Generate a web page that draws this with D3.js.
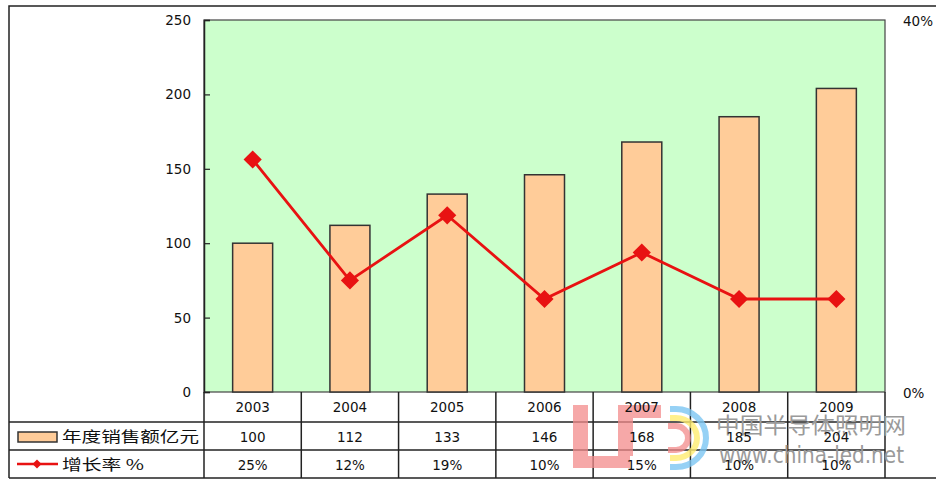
<!DOCTYPE html>
<html>
<head>
<meta charset="utf-8">
<script src="https://cdn.jsdelivr.net/npm/d3@7"></script>
<style>
  html, body { margin: 0; padding: 0; background: #fff; }
  svg { display: block; }
  text { font-family: "DejaVu Sans", "Liberation Sans", sans-serif; }
  .cjk { font-family: "Noto Sans CJK SC", sans-serif; }
</style>
</head>
<body>
<svg id="chart" width="936" height="481"></svg>
<script>
// Annual sales (100 million yuan) and growth rate, 2003–2009
const years = ["2003", "2004", "2005", "2006", "2007", "2008", "2009"];
const sales = [100, 112, 133, 146, 168, 185, 204];
const growth = [25, 12, 19, 10, 15, 10, 10];
const leftTicks = [0, 50, 100, 150, 200, 250];
const rightTicks = [0, 40];
const seriesNames = ["年度销售额亿元", "增长率 %"];

const svg = d3.select("#chart");
const W = 936;
const plot = { left: 204, right: 885, top: 20, bottom: 392 };
const table = { left: 9, rows: [392, 422, 450, 478] };

const x = d3.scaleBand().domain(years).range([plot.left, plot.right]).paddingInner(0).paddingOuter(0);
const yL = d3.scaleLinear().domain([0, 250]).range([plot.bottom, plot.top]);
const yR = d3.scaleLinear().domain([0, 40]).range([plot.bottom, plot.top]);

const ink = "#222";
const red = "#e81212";
const fs = 13.5;

// outer frame
svg.append("path")
  .attr("d", `M${table.left},${table.rows[3]} V6 H${W + 2}`)
  .attr("fill", "none").attr("stroke", ink).attr("stroke-width", 1.5);

// plot background
svg.append("rect")
  .attr("x", plot.left).attr("y", plot.top)
  .attr("width", plot.right - plot.left).attr("height", plot.bottom - plot.top)
  .attr("fill", "#ccffcc").attr("stroke", "#444").attr("stroke-width", 1.2);

// bars
const barW = 40;
svg.append("g").selectAll("rect").data(sales).join("rect")
  .attr("x", (d, i) => x(years[i]) + x.bandwidth() / 2 - barW / 2)
  .attr("y", d => yL(d))
  .attr("width", barW)
  .attr("height", d => yL(0) - yL(d))
  .attr("fill", "#ffcc99").attr("stroke", "#333").attr("stroke-width", 1.5);

// left axis
const axL = svg.append("g").attr("transform", `translate(${plot.left},0)`)
  .call(d3.axisRight(yL).tickValues(leftTicks).tickSize(6).tickFormat(""));
axL.select(".domain").attr("stroke", ink).attr("stroke-width", 1.5);
axL.selectAll(".tick line").attr("stroke", ink).attr("stroke-width", 1.2);
svg.append("g").selectAll("text").data(leftTicks).join("text")
  .attr("x", 191).attr("y", d => yL(d) + 5)
  .attr("text-anchor", "end").attr("font-size", fs).attr("fill", "#111")
  .text(d => d);

// right axis labels
svg.append("g").selectAll("text").data(rightTicks).join("text")
  .attr("x", 903).attr("y", d => yR(d) + 6)
  .attr("text-anchor", "start").attr("font-size", fs).attr("fill", "#111")
  .text(d => d + "%");

// growth line with diamond markers
const lineX = (d, i) => x(years[i]) + x.bandwidth() / 2;
svg.append("path")
  .datum(growth)
  .attr("d", d3.line().x(lineX).y(d => yR(d)))
  .attr("fill", "none").attr("stroke", red).attr("stroke-width", 2.8);
svg.append("g").selectAll("path").data(growth).join("path")
  .attr("d", d3.symbol().type(d3.symbolSquare).size(165))
  .attr("transform", (d, i) => `translate(${lineX(d, i)},${yR(d)}) rotate(45)`)
  .attr("fill", red);

// data table grid
const grid = svg.append("g").attr("stroke", ink).attr("stroke-width", 1.5).attr("fill", "none");
grid.append("line").attr("x1", table.left).attr("x2", plot.right).attr("y1", table.rows[1]).attr("y2", table.rows[1]);
grid.append("line").attr("x1", table.left).attr("x2", plot.right).attr("y1", table.rows[2]).attr("y2", table.rows[2]);
grid.append("line").attr("x1", table.left).attr("x2", W + 2).attr("y1", table.rows[3]).attr("y2", table.rows[3]);
const colEdges = years.map(d => x(d)).concat([plot.right]);
grid.selectAll("line.col").data(colEdges).join("line").attr("class", "col")
  .attr("x1", d => d).attr("x2", d => d)
  .attr("y1", table.rows[0]).attr("y2", table.rows[3]);

// site watermark (drawn beneath the table text)
const wm = svg.append("g");
const pink = "#f38b8b";
wm.append("path").attr("d", "M573,405 h15 v51 h42 v12 h-57 z").attr("fill", pink).attr("opacity", 0.75);
wm.append("path").attr("d", "M618,405 h43 v13 h-28 v38 h-15 z").attr("fill", pink).attr("opacity", 0.75);
wm.append("path").attr("d", "M668,426 h8 a12,12 0 0 1 0,24 h-8").attr("fill", "none").attr("stroke", pink).attr("stroke-width", 6).attr("opacity", 0.75);
wm.append("path").attr("d", "M670,418 h6 a21,20 0 0 1 0,40 h-6").attr("fill", "none").attr("stroke", "#ffec70").attr("stroke-width", 6).attr("opacity", 0.8);
wm.append("path").attr("d", "M670,409 h6 a30,29 0 0 1 0,58 h-6").attr("fill", "none").attr("stroke", "#7cc6f2").attr("stroke-width", 6).attr("opacity", 0.8);
wm.append("text").attr("class", "cjk").attr("x", 716).attr("y", 433)
  .attr("font-size", 22).attr("fill", "#9a9a9a").attr("textLength", 190).attr("lengthAdjust", "spacingAndGlyphs")
  .text("中国半导体照明网");
wm.append("text").attr("font-family", "Liberation Sans, sans-serif").attr("x", 719).attr("y", 463)
  .attr("font-size", 23).attr("fill", "#9a9a9a").attr("textLength", 185).attr("lengthAdjust", "spacingAndGlyphs")
  .text("www.china-led.net");

// table cells
const cellX = d => x(d) + x.bandwidth() / 2;
svg.append("g").selectAll("text").data(years).join("text")
  .attr("x", cellX).attr("y", 412).attr("text-anchor", "middle")
  .attr("font-size", fs).attr("fill", "#111").text(d => d);
svg.append("g").selectAll("text").data(sales).join("text")
  .attr("x", (d, i) => cellX(years[i])).attr("y", 442).attr("text-anchor", "middle")
  .attr("font-size", fs).attr("fill", "#111").text(d => d);
svg.append("g").selectAll("text").data(growth).join("text")
  .attr("x", (d, i) => cellX(years[i])).attr("y", 470).attr("text-anchor", "middle")
  .attr("font-size", fs).attr("fill", "#111").text(d => d + "%");

// legend keys in the table
svg.append("rect").attr("x", 18).attr("y", 432).attr("width", 39).attr("height", 10)
  .attr("fill", "#ffcc99").attr("stroke", "#333").attr("stroke-width", 1.5);
svg.append("text").attr("class", "cjk").attr("x", 62).attr("y", 442)
  .attr("font-size", 15).attr("fill", "#111").attr("textLength", 137).attr("lengthAdjust", "spacingAndGlyphs")
  .text(seriesNames[0]);
svg.append("line").attr("x1", 17).attr("x2", 58).attr("y1", 464).attr("y2", 464)
  .attr("stroke", red).attr("stroke-width", 2.5);
svg.append("path").attr("d", d3.symbol().type(d3.symbolSquare).size(40))
  .attr("transform", "translate(37,464) rotate(45)").attr("fill", red);
svg.append("text").attr("class", "cjk").attr("x", 62).attr("y", 470)
  .attr("font-size", 15).attr("fill", "#111").attr("textLength", 82).attr("lengthAdjust", "spacingAndGlyphs")
  .text(seriesNames[1]);
</script>
</body>
</html>
